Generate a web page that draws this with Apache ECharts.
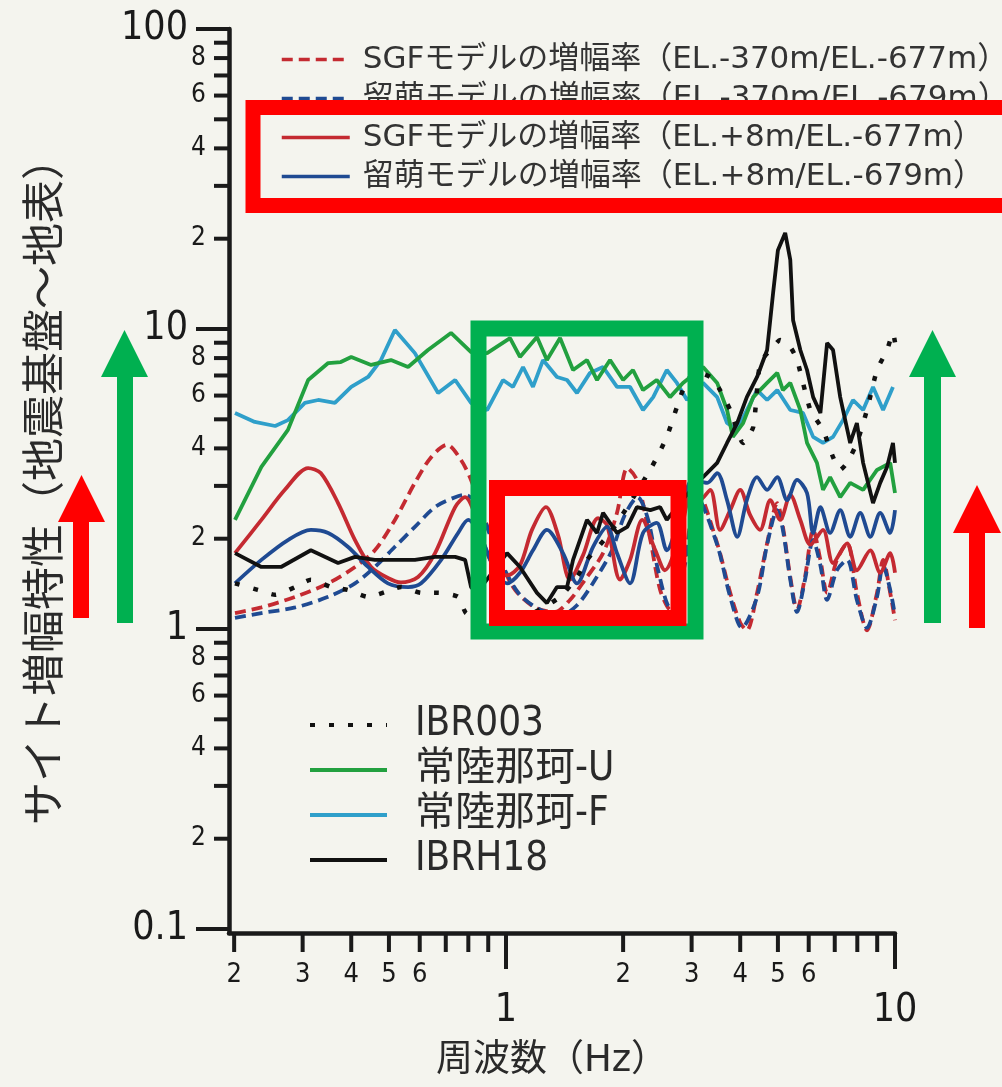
<!DOCTYPE html>
<html><head><meta charset="utf-8">
<script src="https://cdn.jsdelivr.net/npm/echarts@6/dist/echarts.min.js"></script>
<style>html,body{margin:0;padding:0;background:#f4f4ee}#c{width:1002px;height:1087px}</style>
</head><body><div id="c"></div>
<script>
// ---------- data (frequency Hz, amplification) ----------
const sgfDeep = [[0.201,1.13],[0.235,1.18],[0.287,1.28],[0.349,1.42],[0.409,1.61],[0.460,1.83],[0.518,2.31],[0.583,3.07],[0.642,3.74],[0.705,4.11],[0.766,3.66],[0.813,3.14],[0.883,2.31],[0.965,1.70],[1.055,1.35],[1.187,1.18],[1.336,1.14],[1.460,1.25],[1.596,1.46],[1.776,1.79],[1.929,2.44],[2.05,3.44],[2.17,3.14],[2.35,1.98],[2.49,1.35],[2.64,1.16],[2.88,1.70],[3.10,2.91],[3.49,1.93],[3.77,1.32],[4.00,1.05],[4.16,0.99],[4.42,1.32],[4.69,1.93],[4.98,2.63],[5.15,2.19],[5.38,1.49],[5.60,1.16],[5.87,1.49],[6.16,2.14],[6.43,1.70],[6.69,1.32],[7.09,1.70],[7.53,1.93],[7.98,1.32],[8.47,0.99],[8.99,1.32],[9.32,1.70],[9.72,1.32],[10,1.07]];
const rumoiDeep = [[0.201,1.09],[0.235,1.13],[0.287,1.18],[0.349,1.28],[0.409,1.42],[0.460,1.61],[0.518,1.88],[0.583,2.19],[0.657,2.55],[0.740,2.75],[0.785,2.80],[0.847,2.59],[0.910,2.06],[0.994,1.57],[1.086,1.30],[1.223,1.16],[1.377,1.11],[1.522,1.20],[1.694,1.46],[1.873,1.83],[2.02,2.40],[2.18,2.75],[2.32,2.31],[2.46,1.57],[2.64,1.18],[2.88,1.63],[3.10,2.75],[3.49,1.91],[3.77,1.28],[4.04,1.01],[4.42,1.28],[4.69,1.91],[4.98,2.49],[5.15,2.14],[5.38,1.46],[5.60,1.14],[5.87,1.46],[6.16,1.98],[6.43,1.63],[6.69,1.25],[7.09,1.57],[7.53,1.70],[7.98,1.25],[8.47,1.01],[8.99,1.28],[9.32,1.63],[9.72,1.35],[10,1.11]];
const sgfSurf = [[0.201,1.79],[0.235,2.31],[0.270,2.91],[0.310,3.44],[0.334,3.31],[0.370,2.63],[0.409,1.98],[0.450,1.61],[0.497,1.48],[0.537,1.43],[0.594,1.49],[0.657,1.79],[0.740,2.55],[0.785,2.75],[0.833,2.40],[0.910,1.70],[1.006,1.51],[1.086,1.63],[1.166,2.14],[1.267,2.55],[1.360,2.06],[1.460,1.46],[1.577,1.76],[1.724,2.34],[1.818,2.22],[1.964,1.46],[2.084,1.70],[2.24,2.31],[2.42,1.83],[2.56,1.57],[2.80,2.06],[3.01,2.91],[3.15,2.69],[3.35,2.91],[3.55,2.14],[3.77,2.49],[4.00,2.91],[4.24,2.40],[4.50,2.14],[4.78,2.69],[5.07,2.31],[5.38,2.80],[5.71,2.31],[6.06,1.91],[6.53,2.14],[6.93,1.66],[7.53,1.93],[7.98,1.57],[8.64,1.83],[9.16,1.54],[9.72,1.79],[10,1.54]];
const rumoiSurf = [[0.201,1.42],[0.235,1.70],[0.275,1.98],[0.315,2.14],[0.349,2.09],[0.392,1.88],[0.442,1.61],[0.497,1.42],[0.560,1.38],[0.605,1.42],[0.681,1.70],[0.753,2.09],[0.799,2.31],[0.857,2.06],[0.937,1.57],[1.006,1.42],[1.086,1.54],[1.173,1.83],[1.274,2.14],[1.401,1.79],[1.522,1.42],[1.674,1.88],[1.818,2.19],[1.929,1.79],[2.084,1.42],[2.25,2.09],[2.44,2.26],[2.59,1.83],[2.80,2.40],[3.02,3.14],[3.29,3.07],[3.49,3.31],[3.70,2.69],[3.93,2.03],[4.16,2.69],[4.42,3.21],[4.69,2.91],[4.98,3.21],[5.28,2.69],[5.60,3.14],[5.94,2.84],[6.16,2.09],[6.43,2.55],[6.81,2.09],[7.23,2.49],[7.67,2.03],[8.14,2.44],[8.64,2.03],[9.16,2.44],[9.72,2.09],[10,2.49]];
const ibr003 = [[0.201,1.42],[0.230,1.35],[0.255,1.30],[0.287,1.38],[0.315,1.46],[0.355,1.38],[0.392,1.35],[0.442,1.28],[0.490,1.33],[0.537,1.38],[0.605,1.32],[0.669,1.32],[0.753,1.28],[0.789,1.13],[0.857,1.09],[1.006,1.14],[1.153,1.13],[1.377,1.28],[1.522,1.49],[1.615,1.70],[1.851,2.09],[2.05,2.55],[2.37,3.47],[2.59,4.37],[2.85,6.26],[3.06,7.19],[3.35,6.92],[3.55,6.26],[3.77,5.37],[4.07,4.17],[4.32,4.71],[4.50,7.70],[4.78,8.51],[5.07,9.19],[5.38,8.71],[5.60,7.88],[6.06,5.37],[6.53,4.61],[6.93,3.74],[7.23,3.39],[7.53,3.58],[7.98,4.17],[8.47,5.37],[8.99,7.30],[9.54,8.51],[9.88,9.70],[10,9.02]];
const hitachiU = [[0.201,2.31],[0.235,3.47],[0.275,4.61],[0.310,6.76],[0.349,7.70],[0.376,7.76],[0.400,8.07],[0.450,7.59],[0.506,7.88],[0.560,7.47],[0.630,8.51],[0.722,9.70],[0.813,8.38],[0.894,8.31],[1.024,9.33],[1.086,8.07],[1.201,9.41],[1.274,7.88],[1.377,9.33],[1.487,7.30],[1.615,7.88],[1.714,6.76],[1.851,7.88],[2.00,6.76],[2.12,7.30],[2.25,6.26],[2.44,6.76],[2.64,5.93],[2.85,6.61],[3.21,7.47],[3.49,6.61],[3.70,5.37],[3.83,4.37],[4.07,4.86],[4.32,5.93],[4.69,6.61],[4.98,7.14],[5.15,6.26],[5.38,6.61],[5.71,5.37],[5.94,4.17],[6.30,3.58],[6.53,2.91],[6.81,3.21],[7.23,2.75],[7.67,3.07],[8.28,2.91],[8.99,3.39],[9.72,3.58],[10,2.84]];
const hitachiF = [[0.201,5.25],[0.226,4.90],[0.255,4.75],[0.275,4.97],[0.304,5.67],[0.329,5.80],[0.363,5.67],[0.400,6.41],[0.442,6.92],[0.477,7.88],[0.518,9.92],[0.583,8.31],[0.669,6.12],[0.740,6.76],[0.813,5.67],[0.894,5.37],[0.982,6.76],[1.042,6.41],[1.106,7.47],[1.173,6.41],[1.245,7.88],[1.352,6.92],[1.435,6.76],[1.522,6.12],[1.644,7.14],[1.776,7.47],[1.929,6.41],[2.084,6.41],[2.25,5.37],[2.39,5.93],[2.59,7.30],[2.75,6.61],[2.92,5.80],[3.21,6.61],[3.49,5.93],[3.70,4.86],[3.93,4.61],[4.16,5.37],[4.42,6.26],[4.69,5.80],[4.98,6.26],[5.38,5.37],[5.80,5.25],[6.16,4.37],[6.53,4.17],[6.93,4.37],[7.35,4.97],[7.80,5.80],[8.28,5.37],[8.78,6.41],[9.32,5.37],[9.88,6.41]];
const ibrh18 = [[0.201,1.79],[0.235,1.61],[0.264,1.61],[0.315,1.83],[0.370,1.66],[0.409,1.74],[0.460,1.70],[0.518,1.70],[0.583,1.70],[0.657,1.74],[0.740,1.74],[0.785,1.70],[0.813,1.38],[0.842,1.32],[0.910,1.51],[1.006,1.79],[1.086,1.61],[1.201,1.32],[1.274,1.22],[1.352,1.38],[1.435,1.38],[1.487,1.70],[1.615,2.31],[1.714,2.09],[1.776,2.44],[1.929,2.09],[2.05,2.19],[2.17,2.55],[2.35,2.49],[2.49,2.55],[2.59,2.31],[2.88,2.75],[3.21,3.21],[3.49,3.58],[3.70,4.17],[3.93,4.86],[4.16,5.93],[4.42,6.92],[4.69,8.51],[4.86,13.2],[5.00,18.3],[5.22,20.9],[5.38,17.0],[5.47,10.7],[5.71,8.51],[5.94,7.30],[6.16,5.93],[6.43,5.25],[6.69,8.98],[6.93,8.51],[7.23,5.93],[7.67,4.17],[7.98,4.86],[8.28,3.58],[8.78,2.63],[9.16,3.07],[9.54,3.47],[9.88,4.17],[10,3.58]];

const seriesNames = [
  'SGFモデルの増幅率（EL.-370m/EL.-677m）',
  '留萌モデルの増幅率（EL.-370m/EL.-679m）',
  'SGFモデルの増幅率（EL.+8m/EL.-677m）',
  '留萌モデルの増幅率（EL.+8m/EL.-679m）',
  'IBR003', '常陸那珂-U', '常陸那珂-F', 'IBRH18'
];

// ---------- ticks / labels ----------
const xMajorTicks = [1, 10];
const xMinorTicks = [0.2,0.3,0.4,0.5,0.6,0.7,0.8,0.9,2,3,4,5,6,7,8,9];
const xMajorLabelValues = [1, 10];
const xMajorLabelText = ['1', '10'];
const xMinorLabelValues = [0.2,0.3,0.4,0.5,0.6,2,3,4,5,6];
const xMinorLabelText = ['2','3','4','5','6','2','3','4','5','6'];
const yMajorTicks = [0.1, 1, 10, 100];
const yMinorTicks = [0.2,0.3,0.4,0.5,0.6,0.7,0.8,0.9,2,3,4,5,6,7,8,9,20,30,40,50,60,70,80,90];
const yMajorLabelValues = [0.1, 1, 10, 100];
const yMajorLabelText = ['0.1', '1', '10', '100'];
const yMinorLabelValues = [0.2,0.4,0.6,0.8,2,4,6,8,20,40,60,80];
const yMinorLabelText = ['2','4','6','8','2','4','6','8','2','4','6','8'];

// ---------- style ----------
const RED = '#c42a31', BLUE = '#1f4a92', GREEN = '#22a03f', CYAN = '#2f9fca', BLACK = '#111111';
const NARROW = "'Liberation Sans Narrow','DejaVu Sans Condensed','Noto Sans CJK JP',sans-serif";
const JP = "'DejaVu Sans','Noto Sans CJK JP',sans-serif";
const INK = '#1a1a1a';
const LW = 3.8;

function tickSeries(axis, values, len) {
  return {
    type: 'custom', coordinateSystem: 'cartesian2d', silent: true, animation: false, clip: false, z: 10,
    data: values.map(v => axis === 'x' ? [v, 1] : [1, v]),
    renderItem: (params, api) => {
      const cs = params.coordSys;
      if (axis === 'x') {
        const px = api.coord([api.value(0), 1])[0];
        const y0 = cs.y + cs.height;
        return {type: 'line', shape: {x1: px, y1: y0, x2: px, y2: y0 + len}, style: {stroke: INK, lineWidth: 4}};
      }
      const py = api.coord([1, api.value(1)])[1];
      const x0 = cs.x;
      return {type: 'line', shape: {x1: x0 - len, y1: py, x2: x0, y2: py}, style: {stroke: INK, lineWidth: 4}};
    }
  };
}
function labelSeries(axis, values, texts, gap, size) {
  return {
    type: 'custom', coordinateSystem: 'cartesian2d', silent: true, animation: false, clip: false, z: 10,
    data: values.map(v => axis === 'x' ? [v, 1] : [1, v]),
    renderItem: (params, api) => {
      const cs = params.coordSys;
      const t = texts[params.dataIndex];
      if (axis === 'x') {
        const px = api.coord([api.value(0), 1])[0];
        return {type: 'text', x: px, y: cs.y + cs.height + gap,
          style: {text: t, fontSize: size, fontFamily: NARROW, fill: INK, align: 'center', verticalAlign: 'top'}};
      }
      const py = api.coord([1, api.value(1)])[1];
      return {type: 'text', x: cs.x - gap, y: py,
        style: {text: t, fontSize: size, fontFamily: NARROW, fill: INK, align: 'right', verticalAlign: 'middle'}};
    }
  };
}
function lineSeries(name, data, color, type, width, smooth) {
  return {
    type: 'line', name, data, symbol: 'none', smooth: smooth, animation: false, z: 3,
    lineStyle: {color, width, type}, itemStyle: {color}
  };
}
function arrow(shaftL, shaftR, headL, headR, tipX, tipY, baseY, bottomY, color) {
  return {type: 'polygon', z: 100, silent: true,
    shape: {points: [[shaftL,bottomY],[shaftL,baseY],[headL,baseY],[tipX,tipY],[headR,baseY],[shaftR,baseY],[shaftR,bottomY]]},
    style: {fill: color}};
}

const chart = echarts.init(document.getElementById('c'), null, {renderer: 'canvas'});
chart.setOption({
  backgroundColor: '#f4f4ee',
  animation: false,
  grid: {left: 229, top: 29, width: 666, height: 904, containLabel: false},
  xAxis: {
    type: 'log', logBase: 10, min: 0.194, max: 10,
    axisLine: {onZero: false, lineStyle: {color: INK, width: 4.5}},
    axisTick: {show: false}, axisLabel: {show: false}, splitLine: {show: false},
    name: '周波数（Hz）', nameLocation: 'middle', nameGap: 110,
    nameTextStyle: {fontSize: 37, fontFamily: "'DejaVu Sans','Noto Sans CJK JP',sans-serif", color: '#2a2a2a', padding: [0, 20, 0, 0]}
  },
  yAxis: {
    type: 'log', logBase: 10, min: 0.097, max: 100,
    axisLine: {onZero: false, lineStyle: {color: INK, width: 4.5}},
    axisTick: {show: false}, axisLabel: {show: false}, splitLine: {show: false},
    name: 'サイト増幅特性（地震基盤～地表）', nameLocation: 'middle', nameGap: 165, nameRotate: 90,
    nameTextStyle: {fontSize: 43, fontFamily: "'Noto Sans CJK JP',sans-serif", color: '#2a2a2a'}
  },
  legend: [
    {
      data: seriesNames.slice(0, 4), orient: 'vertical', left: 275, top: 39,
      itemWidth: 68, itemHeight: 20, itemGap: 8, selectedMode: false,
      itemStyle: {opacity: 0}, lineStyle: {width: 3.5},
      textStyle: {fontSize: 31, fontFamily: JP, color: '#333', padding: [0, 0, 0, 8]}
    },
    {
      data: seriesNames.slice(4), orient: 'vertical', left: 303, top: 700,
      itemWidth: 77, itemHeight: 20, itemGap: 5, selectedMode: false,
      itemStyle: {opacity: 0}, lineStyle: {width: 4},
      textStyle: {fontSize: 40, fontFamily: NARROW, color: '#2a2a2a', padding: [0, 0, 0, 23]}
    }
  ],
  series: [
    lineSeries(seriesNames[0], sgfDeep, RED, [11, 6], LW, 0.3),
    lineSeries(seriesNames[1], rumoiDeep, BLUE, [11, 6], LW, 0.3),
    lineSeries(seriesNames[2], sgfSurf, RED, 'solid', LW, 0.3),
    lineSeries(seriesNames[3], rumoiSurf, BLUE, 'solid', LW, 0.3),
    lineSeries(seriesNames[6], hitachiF, CYAN, 'solid', LW, false),
    lineSeries(seriesNames[5], hitachiU, GREEN, 'solid', LW, false),
    lineSeries(seriesNames[4], ibr003, BLACK, [5, 14], 4.5, 0.2),
    lineSeries(seriesNames[7], ibrh18, BLACK, 'solid', LW, false),
    tickSeries('x', xMajorTicks, 36),
    tickSeries('x', xMinorTicks, 19),
    tickSeries('y', yMajorTicks, 33),
    tickSeries('y', yMinorTicks, 15),
    labelSeries('x', xMajorLabelValues, xMajorLabelText, 58, 39),
    labelSeries('x', xMinorLabelValues, xMinorLabelText, 28, 27),
    labelSeries('y', yMajorLabelValues, yMajorLabelText, 41, 39),
    labelSeries('y', yMinorLabelValues, yMinorLabelText, 23, 26)
  ],
  graphic: [
    {type: 'rect', z: 100, silent: true, shape: {x: 253, y: 107.5, width: 790, height: 98}, style: {fill: 'none', stroke: '#ff0000', lineWidth: 15}},
    {type: 'rect', z: 100, silent: true, shape: {x: 478.5, y: 328.5, width: 217, height: 303}, style: {fill: 'none', stroke: '#00b050', lineWidth: 16}},
    {type: 'rect', z: 101, silent: true, shape: {x: 497, y: 488, width: 181.5, height: 130}, style: {fill: 'none', stroke: '#ff0000', lineWidth: 16}},
    arrow(117, 133, 101, 148, 124.5, 330, 377, 623, '#00b050'),
    arrow(924, 941, 909, 956, 932.5, 330, 377, 623, '#00b050'),
    arrow(73, 89, 58, 105, 81.5, 475, 522, 618, '#ff0000'),
    arrow(969, 985, 953, 1001, 977, 485, 533, 628, '#ff0000')
  ]
});
</script></body></html>
